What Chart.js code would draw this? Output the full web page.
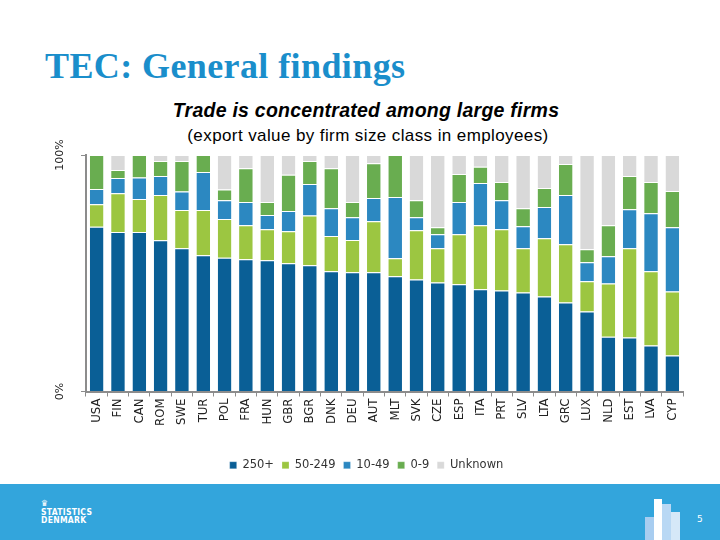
<!DOCTYPE html>
<html>
<head>
<meta charset="utf-8">
<script src="https://cdn.jsdelivr.net/npm/chart.js@4/dist/chart.umd.min.js"></script>
<style>
  html, body { margin: 0; padding: 0; background: #fff; }
  #page { position: relative; width: 720px; height: 540px; overflow: hidden; font-family: "Liberation Sans", Arial, sans-serif; }
  #title { position: absolute; left: 45px; top: 45px; font: bold 36px "Liberation Serif", "DejaVu Serif", serif; color: #1a8ecb; letter-spacing: 0.4px; }
  #sub1 { position: absolute; left: 0; width: 732px; top: 99px; text-align: center; font: italic bold 19.5px "Liberation Sans", Arial, sans-serif; letter-spacing: 0.25px; color: #000; }
  #sub2 { position: absolute; left: 0; width: 736px; top: 126px; text-align: center; font: 17px "Liberation Sans", Arial, sans-serif; letter-spacing: 0.4px; color: #000; }
  #wrap { position: absolute; left: 0; top: 0; width: 720px; height: 483px; }
  #footer { position: absolute; left: 0; top: 484px; width: 720px; height: 56px; background: #33a5dc; }
  #logo { position: absolute; left: 41px; top: 15px; color: #fff; font: bold 8.5px "DejaVu Sans Condensed", "DejaVu Sans", sans-serif; line-height: 8.5px; letter-spacing: 0.3px; }
  #pg { position: absolute; left: 697px; top: 30px; color: #fff; font: 9px "DejaVu Sans", sans-serif; }
  .deco { position: absolute; bottom: 0; }
</style>
</head>
<body>
<div id="page">
  <div id="title">TEC: General findings</div>
  <div id="sub1">Trade is concentrated among large firms</div>
  <div id="sub2">(export value by firm size class in employees)</div>
  <div id="wrap"><canvas id="chart" width="720" height="483"></canvas></div>
  <div id="footer">
    <div id="logo">&#9819;<br>STATISTICS<br>DENMARK</div>
    <div class="deco" style="left:645px;width:9px;height:23px;background:#a8cdf0;"></div>
    <div class="deco" style="left:654px;width:8px;height:41px;background:#ffffff;"></div>
    <div class="deco" style="left:662px;width:9px;height:36px;background:#b9d8f4;"></div>
    <div class="deco" style="left:671px;width:9px;height:28px;background:#d6e8f8;"></div>
    <div id="pg">5</div>
  </div>
</div>
<script>
const countries = ["USA", "FIN", "CAN", "ROM", "SWE", "TUR", "POL", "FRA", "HUN", "GBR", "BGR", "DNK", "DEU", "AUT",
                   "MLT", "SVK", "CZE", "ESP", "ITA", "PRT", "SLV", "LTA", "GRC", "LUX", "NLD", "EST", "LVA", "CYP"];

// share of export value (%) by firm size class
const size250plus = [69.7, 67.4, 67.4, 64.0, 60.6, 57.6, 56.6, 55.9, 55.5, 54.2, 53.4, 50.8, 50.4, 50.4,
                     48.7, 47.4, 46.1, 45.3, 43.2, 42.7, 41.9, 40.2, 37.6, 33.8, 23.2, 22.8, 19.4, 15.2];
const size50to249 = [9.5, 16.4, 14.0, 19.1, 16.1, 19.1, 16.3, 14.4, 13.1, 13.6, 21.0, 14.9, 13.7, 21.6,
                     7.6, 20.8, 14.5, 21.2, 27.1, 25.9, 18.7, 24.6, 24.7, 12.8, 22.5, 37.8, 31.4, 27.1];
const size10to49 = [6.4, 6.5, 9.1, 8.0, 7.9, 16.1, 8.0, 9.8, 6.0, 8.5, 13.3, 11.8, 9.6, 9.8,
                    25.9, 5.5, 5.9, 13.6, 17.9, 12.3, 9.3, 13.2, 20.8, 8.0, 11.5, 16.5, 24.6, 27.2];
const size0to9 = [14.4, 3.4, 9.5, 6.4, 12.9, 7.2, 4.5, 14.3, 5.5, 15.3, 9.8, 16.9, 6.4, 14.7,
                  17.8, 7.2, 3.0, 11.9, 6.8, 7.7, 7.6, 8.0, 13.1, 5.5, 13.1, 14.0, 13.2, 15.3];
const sizeUnknown = [0, 6.3, 0, 2.5, 2.5, 0, 14.6, 5.6, 19.9, 8.4, 2.5, 5.6, 19.9, 3.5,
                     0, 19.1, 30.5, 8.0, 5.0, 11.4, 22.5, 14.0, 3.8, 39.9, 29.7, 8.9, 11.4, 15.2];

const yTicks = [0, 100];

function series(label, data, color) {
    return {
        label: label,
        data: data,
        backgroundColor: color,
        borderColor: "#ffffff",
        borderWidth: { top: 1, left: 0, right: 0, bottom: 0 },
        borderSkipped: false,
        barPercentage: 0.64,
        categoryPercentage: 1.0
    };
}

new Chart(document.getElementById("chart"), {
    type: "bar",
    data: {
        labels: countries,
        datasets: [
            series("250+", size250plus, "#0a5f96"),
            series("50-249", size50to249, "#9cc641"),
            series("10-49", size10to49, "#2c88c1"),
            series("0-9", size0to9, "#69ad50"),
            series("Unknown", sizeUnknown, "#d9d9d9")
        ]
    },
    options: {
        responsive: false,
        animation: false,
        layout: { padding: { left: 50, right: 37, top: 155, bottom: 2 } },
        plugins: {
            legend: {
                position: "bottom",
                labels: {
                    boxWidth: 7,
                    boxHeight: 7,
                    padding: 8,
                    color: "#333",
                    font: { family: "DejaVu Sans", size: 11.5 }
                }
            },
            tooltip: { enabled: false }
        },
        scales: {
            x: {
                stacked: true,
                grid: { drawOnChartArea: false, color: "#8c8c8c", tickLength: 5, offset: true },
                border: { color: "#8c8c8c", width: 2 },
                ticks: {
                    minRotation: 90,
                    maxRotation: 90,
                    autoSkip: false,
                    padding: 2,
                    color: "#222",
                    font: { family: "Liberation Sans Narrow, DejaVu Sans Condensed, Liberation Sans", size: 13 }
                },
                afterFit: scale => { scale.height = 60; }
            },
            y: {
                stacked: true,
                min: 0,
                max: 100,
                grid: { drawOnChartArea: false, color: "#8c8c8c", tickLength: 5 },
                border: { color: "#8c8c8c", width: 2 },
                afterBuildTicks: scale => { scale.ticks = yTicks.map(v => ({ value: v })); },
                ticks: {
                    minRotation: 90,
                    maxRotation: 90,
                    crossAlign: "center",
                    padding: 5,
                    color: "#222",
                    font: { family: "DejaVu Sans", size: 11 },
                    callback: value => value + "%"
                },
                afterFit: scale => { scale.width = 36; }
            }
        }
    }
});
</script>
</body>
</html>
